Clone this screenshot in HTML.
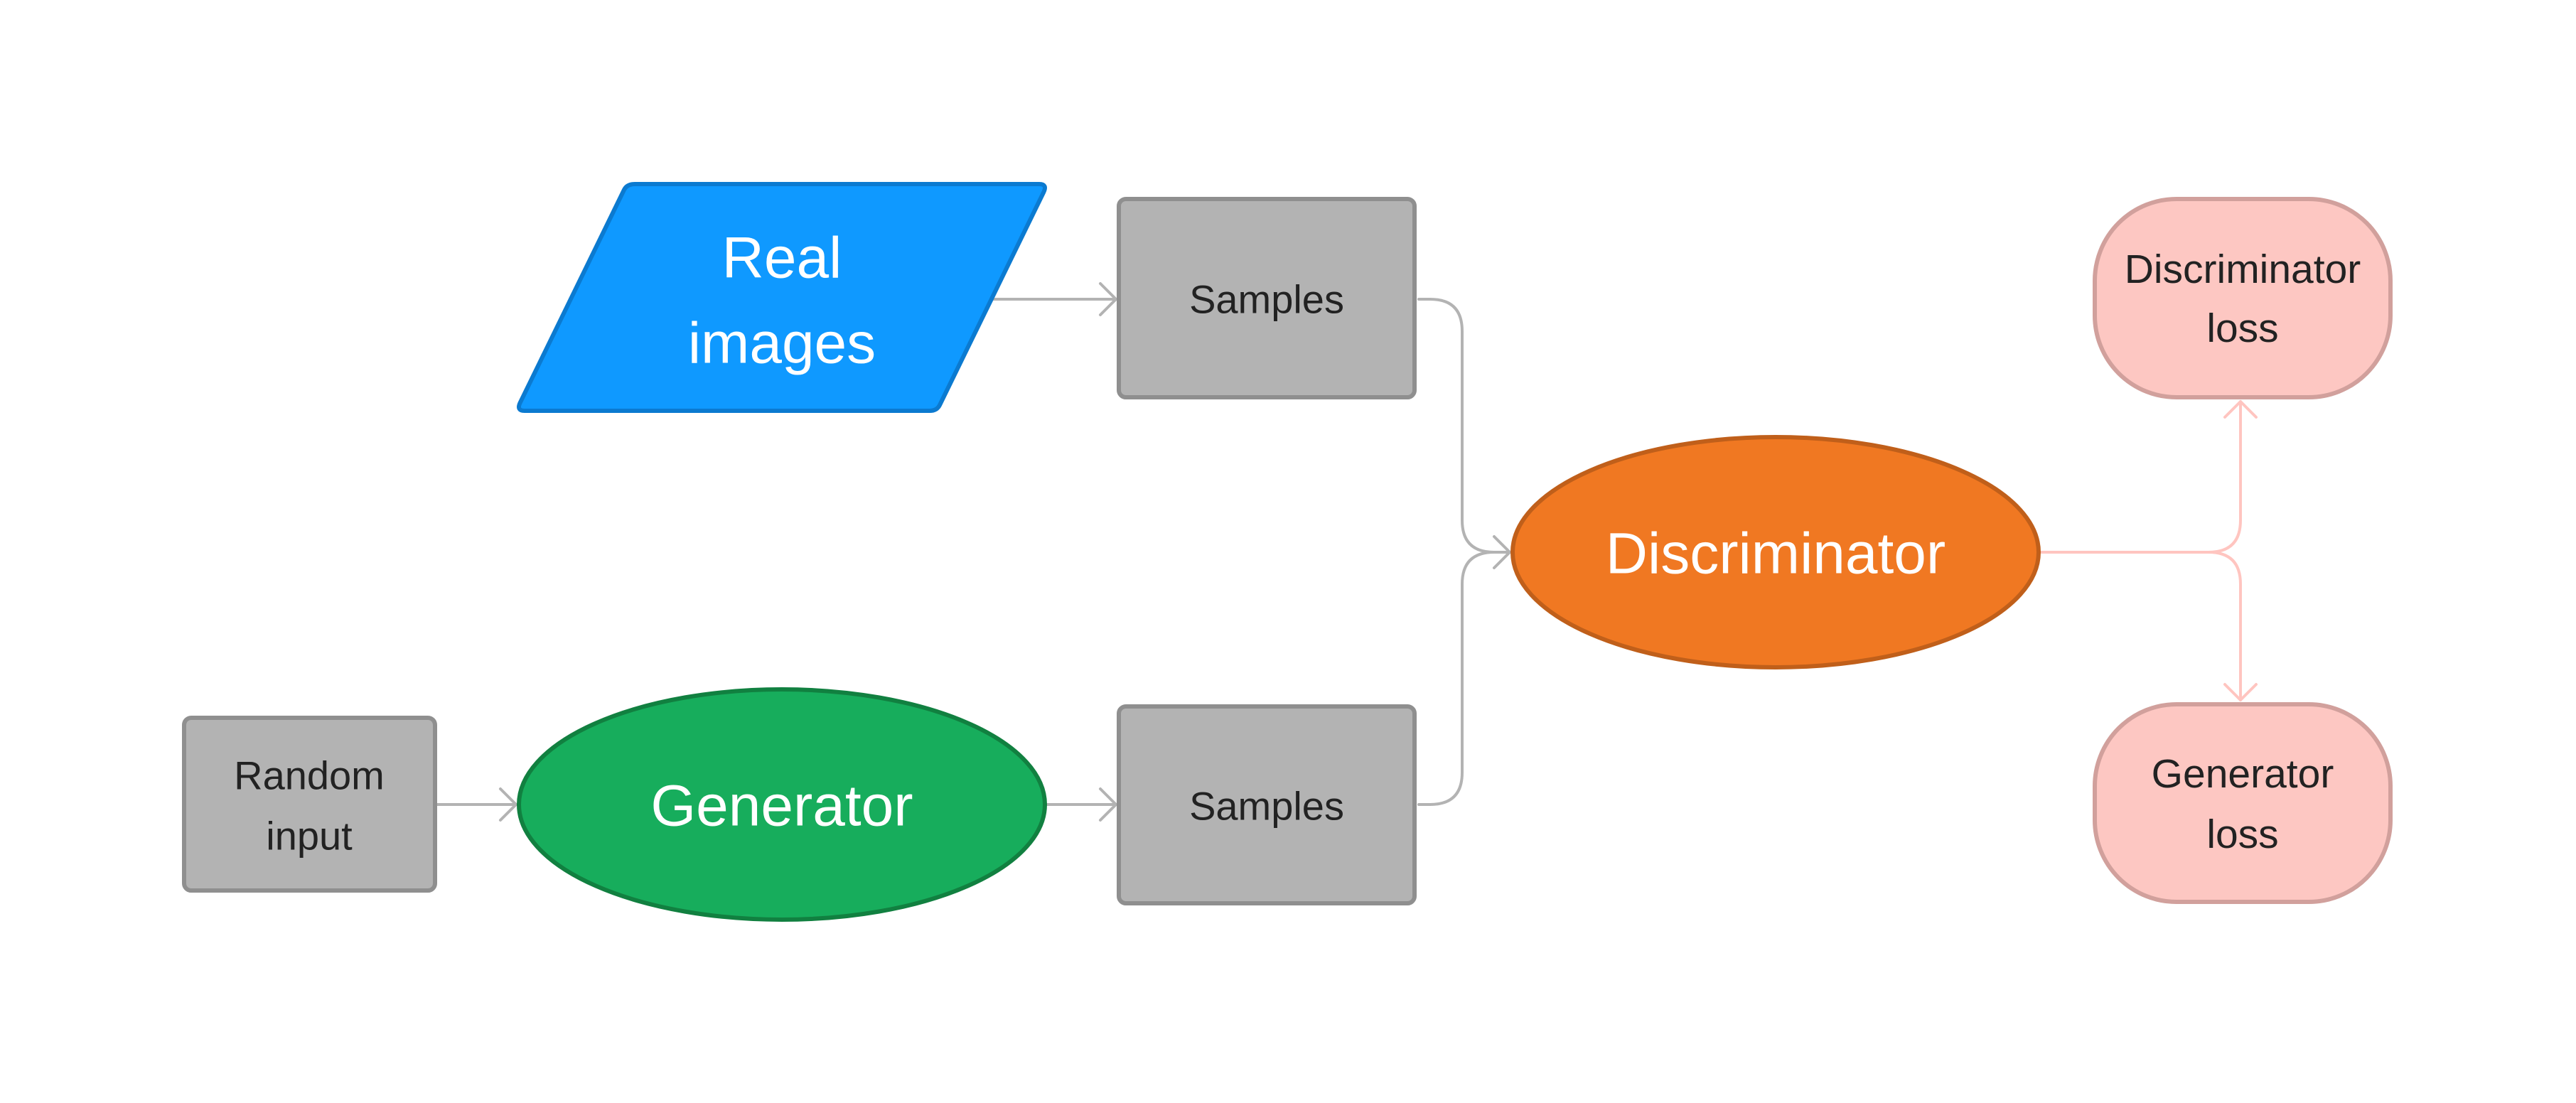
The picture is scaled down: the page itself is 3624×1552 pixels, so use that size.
<!DOCTYPE html>
<html><head><meta charset="utf-8"><style>
html,body{margin:0;padding:0;background:#fff}
svg{display:block}
text{font-family:"Liberation Sans",sans-serif;text-anchor:middle;dominant-baseline:central}
</style></head><body>
<svg width="3624" height="1552" viewBox="0 0 3624 1552" xmlns="http://www.w3.org/2000/svg">
<rect width="3624" height="1552" fill="#fff"/>
<g fill="none" stroke="#b3b3b3" stroke-width="4" stroke-linecap="round" stroke-linejoin="round">
<path d="M1398 421 H1570"/><path d="M1548 399 L1570 421 L1548 443"/>
<path d="M612 1132 H726"/><path d="M704 1110 L726 1132 L704 1154"/>
<path d="M1470 1132 H1570"/><path d="M1548 1110 L1570 1132 L1548 1154"/>
<path d="M1996 421 H2012 Q2057 421 2057 466 V732 Q2057 777 2102 777 H2124"/>
<path d="M1996 1132 H2012 Q2057 1132 2057 1087 V822 Q2057 777 2102 777"/>
<path d="M2102 755 L2124 777 L2102 799"/>
</g>
<g fill="none" stroke="#ffc5c0" stroke-width="4" stroke-linecap="round" stroke-linejoin="round">
<path d="M2872 777 H3107 Q3152 777 3152 732 V565"/><path d="M3130 587 L3152 565 L3174 587"/>
<path d="M3107 777 Q3152 777 3152 822 V985"/><path d="M3130 963 L3152 985 L3174 963"/>
</g>
<path d="M893 259 H1462 Q1474 259 1468 271 L1322 570 Q1318 578 1308 578 H738 Q726 578 732 566 L878 267 Q882 259 893 259 Z" fill="#0f99ff" stroke="#0b7ad0" stroke-width="6"/>
<text x="1100" y="363" font-size="82" fill="#fff">Real</text>
<text x="1100" y="483" font-size="82" fill="#fff">images</text>
<rect x="1574" y="280" width="416" height="279" rx="10" fill="#b3b3b3" stroke="#8f8f8f" stroke-width="6"/>
<text x="1782" y="421" font-size="56" fill="#222">Samples</text>
<rect x="1574" y="994" width="416" height="277" rx="10" fill="#b3b3b3" stroke="#8f8f8f" stroke-width="6"/>
<text x="1782" y="1134" font-size="56" fill="#222">Samples</text>
<rect x="259" y="1010" width="353" height="243" rx="10" fill="#b3b3b3" stroke="#8f8f8f" stroke-width="6"/>
<text x="435" y="1091" font-size="56" fill="#222">Random</text>
<text x="435" y="1176" font-size="56" fill="#222">input</text>
<ellipse cx="1100" cy="1132" rx="370" ry="162" fill="#17ad5c" stroke="#118040" stroke-width="6"/>
<text x="1100" y="1134" font-size="82" fill="#fff">Generator</text>
<ellipse cx="2498" cy="777" rx="370" ry="162" fill="#f07822" stroke="#c05f1a" stroke-width="6"/>
<text x="2498" y="779" font-size="82" fill="#fff">Discriminator</text>
<rect x="2947" y="280" width="416" height="279" rx="115" fill="#fdc7c2" stroke="#d1a09c" stroke-width="6"/>
<text x="3155" y="379" font-size="57" fill="#222">Discriminator</text>
<text x="3155" y="462" font-size="57" fill="#222">loss</text>
<rect x="2947" y="991" width="416" height="278" rx="115" fill="#fdc7c2" stroke="#d1a09c" stroke-width="6"/>
<text x="3155" y="1089" font-size="57" fill="#222">Generator</text>
<text x="3155" y="1174" font-size="57" fill="#222">loss</text>
</svg>
</body></html>
